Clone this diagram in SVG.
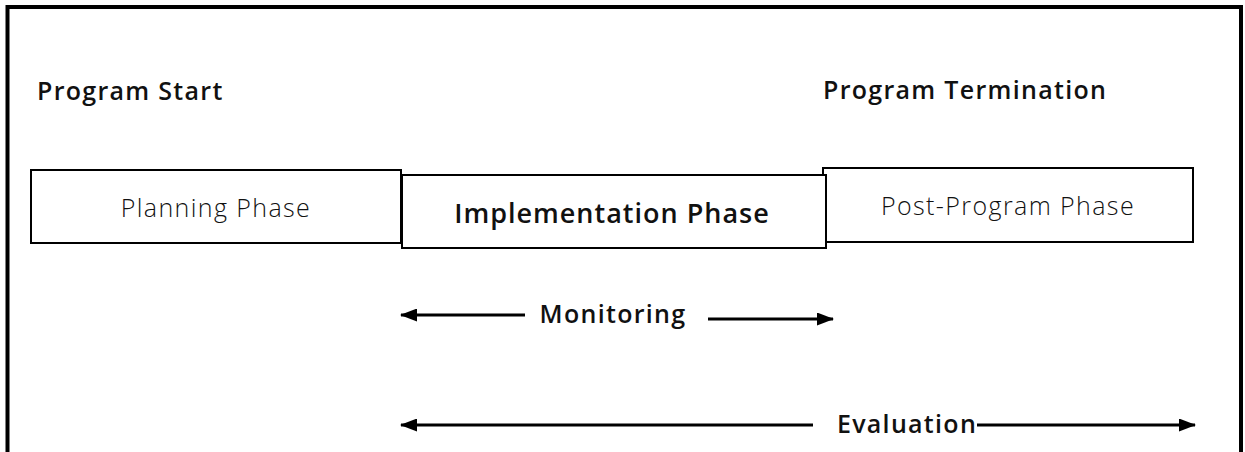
<svg xmlns="http://www.w3.org/2000/svg" width="1245" height="452" viewBox="0 0 1245 452">
<style>
.box{fill:#fff;stroke:#000;stroke-width:2}
.b{font-family:"Open Sans","Noto Sans",sans-serif;font-size:25px;font-weight:560;fill:#111;letter-spacing:1.3px}
.l{font-family:"Open Sans","Noto Sans",sans-serif;font-size:25px;font-weight:350;fill:#111;letter-spacing:1.4px}
.c{stroke:#000;stroke-width:3;fill:none}
</style>
<defs>
<marker id="ah" viewBox="0 0 17 13" refX="16" refY="6.5" markerWidth="17" markerHeight="13" markerUnits="userSpaceOnUse" orient="auto-start-reverse">
<path d="M0,0 L17,6.5 L0,13 Z" fill="#000"/>
</marker>
</defs>
<rect width="1245" height="452" fill="#fff"/>
<path d="M7.5,452 V7 H1241 V452" fill="none" stroke="#000" stroke-width="4"/>
<g id="label-start"><text class="b" x="37" y="100">Program Start</text></g>
<g id="label-termination"><text class="b" x="823" y="99">Program Termination</text></g>
<g id="planning"><rect class="box" x="31" y="170" width="370" height="73"/><text class="l" x="216" y="217" text-anchor="middle">Planning Phase</text></g>
<g id="post"><rect class="box" x="823" y="168" width="370" height="74"/><text class="l" x="1008" y="215" text-anchor="middle">Post-Program Phase</text></g>
<g id="implementation"><rect class="box" x="402" y="175" width="424" height="73"/><text class="b" x="612" y="223" text-anchor="middle" style="font-size:27px;letter-spacing:1px">Implementation Phase</text></g>
<g id="connectors">
<line class="c" x1="525" y1="315" x2="401" y2="315" marker-end="url(#ah)"/>
<line class="c" x1="708" y1="319" x2="833" y2="319" marker-end="url(#ah)"/>
<line class="c" x1="813" y1="425" x2="401" y2="425" marker-end="url(#ah)"/>
<line class="c" x1="977" y1="425" x2="1195" y2="425" marker-end="url(#ah)"/>
</g>
<g id="label-monitoring"><text class="b" x="613" y="323" text-anchor="middle">Monitoring</text></g>
<g id="label-evaluation"><text class="b" x="907" y="433" text-anchor="middle">Evaluation</text></g>
</svg>
